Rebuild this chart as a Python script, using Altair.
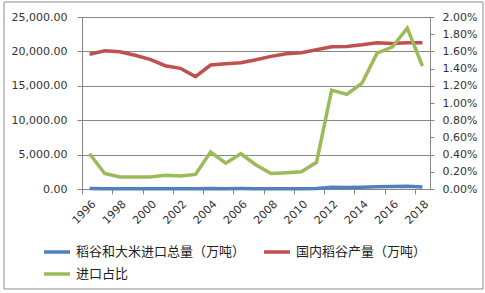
import altair as alt
import pandas as pd

years = [1996, 1997, 1998, 1999, 2000, 2001, 2002, 2003, 2004, 2005, 2006, 2007,
         2008, 2009, 2010, 2011, 2012, 2013, 2014, 2015, 2016, 2017, 2018]
imports = [80, 36, 28, 28, 26, 28, 26, 27, 77, 54, 74, 53,
           35, 38, 40, 63, 237, 227, 258, 335, 348, 398, 303]
production = [19580, 20100, 19960, 19430, 18850, 17920, 17540, 16330, 18020, 18210, 18360, 18780,
              19280, 19660, 19810, 20250, 20680, 20730, 20970, 21260, 21160, 21260, 21260]
share = [0.0041, 0.0018, 0.0014, 0.0014, 0.0014, 0.0016, 0.0015, 0.0017, 0.0043, 0.0030, 0.0041, 0.0028,
         0.0018, 0.0019, 0.0020, 0.0031, 0.0115, 0.0110, 0.0123, 0.0158, 0.0165, 0.0187, 0.0143]

s1 = "稻谷和大米进口总量（万吨）"
s2 = "国内稻谷产量（万吨）"
s3 = "进口占比"
series_names = [s1, s2, s3]
series_colors = ["#4F81BD", "#C0504D", "#9BBB59"]
legend_order = [s1, s3, s2]  # legend grid fills column by column
left_ticks = [0, 5000, 10000, 15000, 20000, 25000]
right_ticks = [0, 0.002, 0.004, 0.006, 0.008, 0.01, 0.012, 0.014, 0.016, 0.018, 0.02]
year_labels = [1996, 1998, 2000, 2002, 2004, 2006, 2008, 2010, 2012, 2014, 2016, 2018]

n = len(years)
df_left = pd.DataFrame({
    "year": years + years,
    "value": imports + production,
    "series": [s1] * n + [s2] * n,
})
df_right = pd.DataFrame({"year": years, "share": share, "series": [s3] * n})

W, H = 348, 172
band = W / n
GRAY = "#868686"

legend = alt.Legend(
    title=None, orient="none", legendX=-40, legendY=220, columns=2,
    values=legend_order,
    symbolType="stroke", symbolSize=676, symbolStrokeWidth=3.5,
    labelFont="Noto Sans CJK SC", labelFontSize=13, labelColor="#222222", labelLimit=400,
    columnPadding=11, rowPadding=-4, labelOffset=4, padding=0,
)
color = alt.Color("series:N", scale=alt.Scale(domain=series_names, range=series_colors), legend=legend)

x = alt.X(
    "year:Q",
    scale=alt.Scale(domain=[1995.5, 2018.5], nice=False, zero=False),
    axis=alt.Axis(title=None, values=year_labels, format="d", labelAngle=-45,
                  tickOffset=-band / 2, labelOffset=band / 2, grid=False,
                  tickSize=5, labelPadding=4),
)

left = alt.Chart(df_left).mark_line(strokeWidth=3.5).encode(
    x=x,
    y=alt.Y("value:Q", scale=alt.Scale(domain=[0, 25000], nice=False),
            axis=alt.Axis(title=None, values=left_ticks, format=",.2f", grid=True,
                          tickSize=5, labelPadding=10)),
    color=color,
    order=alt.Order("year:Q"),
)

right = alt.Chart(df_right).mark_line(strokeWidth=3.5).encode(
    x=x,
    y=alt.Y("share:Q", scale=alt.Scale(domain=[0, 0.02], nice=False),
            axis=alt.Axis(title=None, orient="right", values=right_ticks, format=".2%",
                          grid=False, tickSize=4, labelPadding=8)),
    color=color,
    order=alt.Order("year:Q"),
)

border = alt.Chart(pd.DataFrame({"k": [0]})).mark_rect(
    fillOpacity=0, stroke="#8c8c8c", strokeWidth=1
).encode(x=alt.value(-78), x2=alt.value(401), y=alt.value(-15), y2=alt.value(272))

chart = alt.layer(border, left, right).resolve_scale(y="independent").properties(
    width=W, height=H,
    autosize=alt.AutoSizeParams(type="none"),
    padding={"left": 82, "top": 17, "right": 55, "bottom": 104},
    background="white",
).configure_view(strokeWidth=0).configure_axis(
    domainColor=GRAY, tickColor=GRAY, gridColor=GRAY,
    labelFont="DejaVu Sans", labelFontSize=11, labelColor="#333333",
)

chart.save("out.html", embed_options={"renderer": "svg", "actions": False})
